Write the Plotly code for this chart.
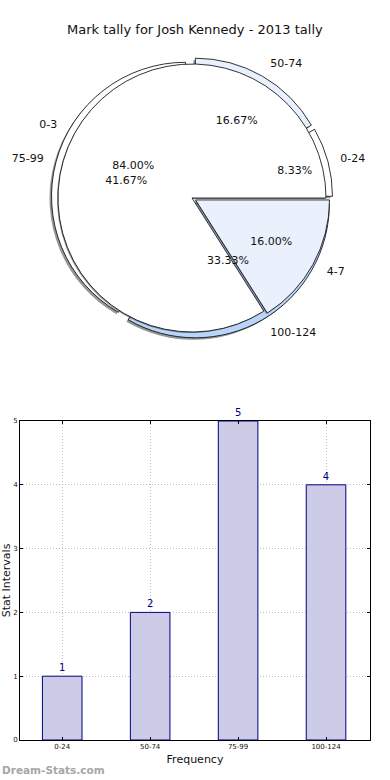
import plotly.graph_objects as go

# ---------------- data ----------------
chart_title = "Mark tally for Josh Kennedy - 2013 tally"
mark_labels = ["0-3", "4-7"]
mark_values = [84, 16]
interval_labels = ["0-24", "50-74", "75-99", "100-124"]
interval_counts = [1, 2, 5, 4]
y_ticks = [0, 1, 2, 3, 4, 5]

# ---------------- styles ----------------
mark_colors = ["#ffffff", "#eaf1fd"]
interval_colors = ["#ffffff", "#e9f1fe", "#ffffff", "#b9d5fb"]
mark_pull = [0, 0.03]
interval_pull = [0.05, 0.05, 0.05, 0.05]
FONT = "DejaVu Sans"
W, H = 390, 780
CX, CY, R = 192, 198, 134


def dom(cx, cy, half):
    return dict(x=[(cx - half) / W, (cx + half) / W],
                y=[1 - (cy + half) / H, 1 - (cy - half) / H])


def rev(seq):
    # slices are laid clockwise from 3 o'clock in reverse order, which gives
    # the counter-clockwise-from-3-o'clock layout of the original
    return list(seq)[::-1]


fig = go.Figure()

common = dict(sort=False, direction="clockwise", rotation=90,
              hoverinfo="skip", showlegend=False)

# shadow of the interval pie
fig.add_trace(go.Pie(labels=rev(interval_labels), values=rev(interval_counts),
                     pull=rev(interval_pull), textinfo="none",
                     marker=dict(colors=["rgba(80,80,80,0.6)"] * 4,
                                 line=dict(width=0)),
                     domain=dom(CX - 2, CY + 2, R * 1.05), **common))
# interval pie (underneath)
fig.add_trace(go.Pie(labels=rev(interval_labels), values=rev(interval_counts),
                     pull=rev(interval_pull), textinfo="none",
                     marker=dict(colors=rev(interval_colors),
                                 line=dict(color="black", width=0.8)),
                     domain=dom(CX, CY, R * 1.05), **common))
# shadow of mark pie
fig.add_trace(go.Pie(labels=rev(mark_labels), values=rev(mark_values),
                     pull=rev(mark_pull), textinfo="none",
                     marker=dict(colors=["rgba(80,80,80,0.6)"] * 2,
                                 line=dict(width=0)),
                     domain=dom(CX - 1, CY + 1, R * 1.03), **common))
# mark pie (on top)
fig.add_trace(go.Pie(labels=rev(mark_labels), values=rev(mark_values),
                     pull=rev(mark_pull), textinfo="none",
                     marker=dict(colors=rev(mark_colors),
                                 line=dict(color="black", width=0.8)),
                     domain=dom(CX, CY, R * 1.03), **common))

# text-only pies (transparent): percentages inside, labels outside
clear = dict(line=dict(width=0))
for labels, values in [(interval_labels, interval_counts), (mark_labels, mark_values)]:
    fig.add_trace(go.Pie(labels=rev(labels), values=rev(values), textinfo="percent",
                         texttemplate="%{percent:.2%}", textposition="inside",
                         insidetextorientation="horizontal",
                         textfont=dict(family=FONT, size=11, color="#111"),
                         marker=dict(colors=["rgba(0,0,0,0)"] * len(values), **clear),
                         domain=dom(CX, CY, R), **common))
    fig.add_trace(go.Pie(labels=rev(labels), values=rev(values), textinfo="label",
                         textposition="outside",
                         textfont=dict(family=FONT, size=11, color="#111"),
                         marker=dict(colors=["rgba(0,0,0,0)"] * len(values), **clear),
                         domain=dom(CX, CY, R * 1.12), **common))

# ---------------- bar chart ----------------
fig.add_trace(go.Bar(x=interval_labels, y=interval_counts, width=0.45,
                     marker=dict(color="#ccccE6", line=dict(color="#000080", width=1)),
                     text=interval_counts, textposition="outside",
                     textfont=dict(family=FONT, size=10, color="#000080"),
                     cliponaxis=False, showlegend=False, hoverinfo="skip"))

axis_common = dict(showline=True, linecolor="black", linewidth=1, mirror="allticks",
                   ticks="inside", ticklen=3, tickcolor="black",
                   showgrid=True, gridcolor="#bdbdbd", griddash="1px,2px", gridwidth=1,
                   zeroline=False, tickfont=dict(family=FONT, size=7, color="#111"))

fig.update_layout(
    width=W, height=H,
    margin=dict(l=0, r=0, t=0, b=0),
    paper_bgcolor="white", plot_bgcolor="white",
    font=dict(family=FONT, color="#111"),
    xaxis=dict(domain=[20 / W, 370 / W], range=[-0.48, 3.5], type="category",
               title=dict(text="Frequency", font=dict(family=FONT, size=11), standoff=4),
               automargin=False, **axis_common),
    yaxis=dict(domain=[1 - 740 / H, 1 - 421 / H], range=[0, 5], tickvals=y_ticks,
               title=dict(text="Stat Intervals", font=dict(family=FONT, size=11), standoff=2),
               automargin=False, **axis_common),
    annotations=[
        dict(text=chart_title, x=195 / W, y=1 - 30 / H, xref="paper", yref="paper",
             showarrow=False, font=dict(family=FONT, size=13, color="#111"),
             xanchor="center", yanchor="middle"),
        dict(text="<b>Dream-Stats.com</b>", x=0, y=1 - 770 / H, xref="paper", yref="paper",
             showarrow=False, font=dict(family=FONT, size=10.5, color="#a6a6a6"),
             xanchor="left", yanchor="middle"),
    ],
)

fig.write_html("out.html", config={"displayModeBar": False},
               post_script="document.body.style.margin='0px';")
